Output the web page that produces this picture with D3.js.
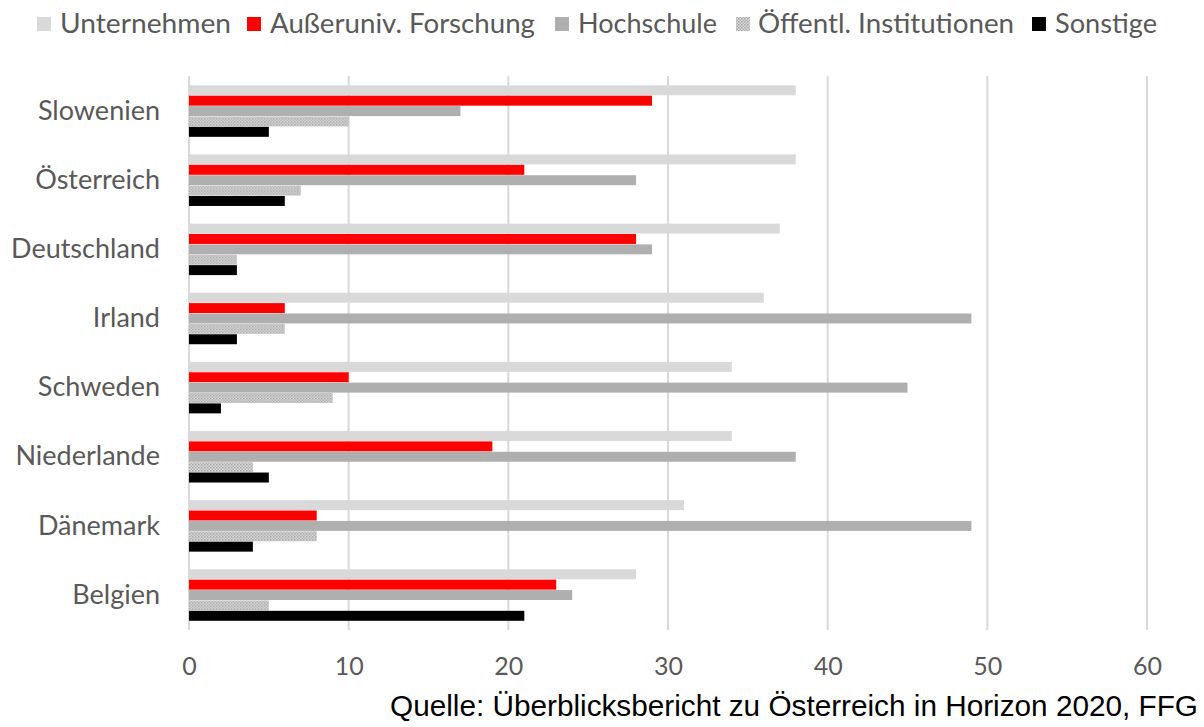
<!DOCTYPE html>
<html>
<head>
<meta charset="utf-8">
<script src="https://cdn.jsdelivr.net/npm/d3@7"></script>
<style>
  html, body { margin: 0; padding: 0; background: #fff; }
  svg { display: block; }
</style>
</head>
<body>
<svg id="chart" width="1204" height="727"></svg>
<script>
// Countries, top to bottom
const countries = ["Slowenien", "Österreich", "Deutschland", "Irland", "Schweden", "Niederlande", "Dänemark", "Belgien"];
// Participant groups (legend order)
const seriesNames = ["Unternehmen", "Außeruniv. Forschung", "Hochschule", "Öffentl. Institutionen", "Sonstige"];
// Shares in percent, one array per group, in country order
const unternehmen   = [38, 38, 37, 36, 34, 34, 31, 28];
const ausseruniv    = [29, 21, 28,  6, 10, 19,  8, 23];
const hochschule    = [17, 28, 29, 49, 45, 38, 49, 24];
const oeffentlich   = [10,  7,  3,  6,  9,  4,  8,  5];
const sonstige      = [ 5,  6,  3,  3,  2,  5,  4, 21];
const xTicks = [0, 10, 20, 30, 40, 50, 60];
const sourceNote = "Quelle: Überblicksbericht zu Österreich in Horizon 2020, FFG";

const seriesValues = [unternehmen, ausseruniv, hochschule, oeffentlich, sonstige];
const fills = ["#d9d9d9", "#ff0000", "#afafaf", "url(#dots)", "#000000"];

const svg = d3.select("#chart");
const labelFont = "Lato, 'Open Sans', sans-serif";

// Dotted fill for the public-institutions bars
const defs = svg.append("defs");
const pat = defs.append("pattern")
  .attr("id", "dots").attr("patternUnits", "userSpaceOnUse")
  .attr("width", 3).attr("height", 3);
pat.append("rect").attr("width", 3).attr("height", 3).attr("fill", "#d6d6d6");
pat.append("rect").attr("x", 0).attr("y", 0).attr("width", 1.5).attr("height", 1.5).attr("fill", "#a8a8a8");
pat.append("rect").attr("x", 1.5).attr("y", 1.5).attr("width", 1.5).attr("height", 1.5).attr("fill", "#b6b6b6");

const x = d3.scaleLinear().domain([0, 60]).range([189, 1147]);
const y0 = d3.scaleBand().domain(countries).range([76.5, 629.6]).paddingInner(0.255).paddingOuter(0.1275);
const y1 = d3.scaleBand().domain(d3.range(seriesNames.length)).range([0, y0.bandwidth()]).paddingInner(0.04);

// Vertical gridlines
svg.append("g").selectAll("line").data(xTicks).join("line")
  .attr("x1", d => x(d)).attr("x2", d => x(d))
  .attr("y1", 76).attr("y2", 630)
  .attr("stroke", "#d9d9d9").attr("stroke-width", 2);

// Bars
const groups = svg.append("g").selectAll("g").data(countries).join("g")
  .attr("transform", c => `translate(0,${y0(c)})`);

groups.selectAll("rect")
  .data((c, ci) => seriesValues.map((vals, si) => ({ si, v: vals[ci] })))
  .join("rect")
  .attr("x", x(0))
  .attr("y", d => y1(d.si))
  .attr("width", d => x(d.v) - x(0))
  .attr("height", y1.bandwidth())
  .attr("fill", d => fills[d.si]);

// X axis tick labels
const xAxis = d3.axisBottom(x).tickValues(xTicks).tickSize(0).tickPadding(0);
const gx = svg.append("g").attr("transform", "translate(0,657)").call(xAxis);
gx.select(".domain").remove();
gx.selectAll("text")
  .attr("font-family", labelFont).attr("font-size", 25).attr("fill", "#595959");

// Category labels
const yAxis = d3.axisLeft(y0).tickSize(0).tickPadding(0);
const gy = svg.append("g").attr("transform", "translate(160,0)").call(yAxis);
gy.select(".domain").remove();
gy.selectAll("text")
  .attr("font-family", labelFont).attr("font-size", 27).attr("fill", "#595959");

// Legend
const legendSwatchX = [37, 247, 555, 736, 1032];
const legendTextX = [60, 270, 578, 758, 1055];
const legendTextW = [171, 265, 139, 256, 102];
const leg = svg.append("g").selectAll("g").data(seriesNames).join("g");
leg.append("rect")
  .attr("x", (d, i) => legendSwatchX[i]).attr("y", 17)
  .attr("width", 14).attr("height", 14)
  .attr("fill", (d, i) => fills[i]);
leg.append("text")
  .attr("x", (d, i) => legendTextX[i]).attr("y", 24).attr("dy", "0.35em")
  .attr("textLength", (d, i) => legendTextW[i]).attr("lengthAdjust", "spacingAndGlyphs")
  .attr("font-family", labelFont).attr("font-size", 27).attr("fill", "#595959")
  .text(d => d);

// Source line
svg.append("text").attr("x", 390).attr("y", 716)
  .attr("textLength", 808).attr("lengthAdjust", "spacingAndGlyphs")
  .attr("font-family", "'Liberation Sans', Arial, sans-serif")
  .attr("font-size", 30).attr("fill", "#000")
  .text(sourceNote);
</script>
</body>
</html>
